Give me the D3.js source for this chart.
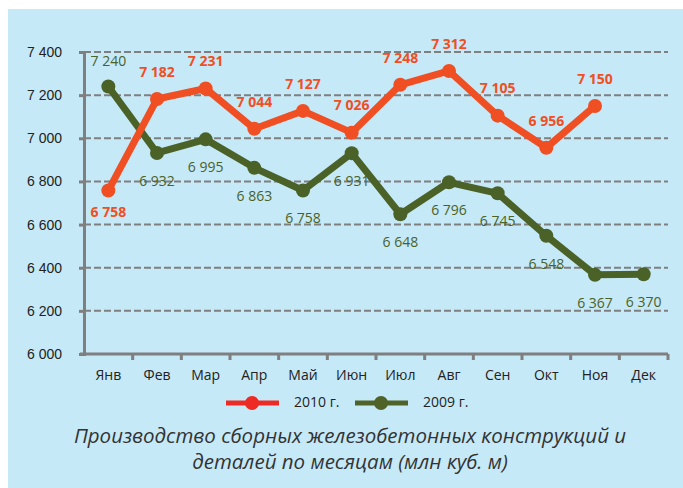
<!DOCTYPE html>
<html>
<head>
<meta charset="utf-8">
<script src="https://cdn.jsdelivr.net/npm/d3@7"></script>
<style>
  body { margin: 0; background: #fff; }
  svg { display: block; font-family: "Open Sans", "Noto Sans", sans-serif; }
</style>
</head>
<body>
<div id="chart"></div>
<script>
// months and series values
const months = ['Янв', 'Фев', 'Мар', 'Апр', 'Май', 'Июн', 'Июл', 'Авг', 'Сен', 'Окт', 'Ноя', 'Дек'];
const values2010 = [6758, 7182, 7231, 7044, 7127, 7026, 7248, 7312, 7105, 6956, 7150];
const values2009 = [7240, 6932, 6995, 6863, 6758, 6931, 6648, 6796, 6745, 6548, 6367, 6370];
const yTicks = [6000, 6200, 6400, 6600, 6800, 7000, 7200, 7400];
const seriesNames = ['2010 г.', '2009 г.'];
const captionLines = ['Производство сборных железобетонных конструкций и', 'деталей по месяцам (млн куб. м)'];

const width = 683, height = 488;
const margin = { top: 52, right: 15, bottom: 134, left: 84 };

const orange = '#f04e23', red = '#ee2a24', green = '#4a6127';

const svg = d3.select('#chart').append('svg')
    .attr('width', width)
    .attr('height', height);

// panel background
svg.append('rect')
    .attr('x', 8).attr('y', 9)
    .attr('width', width - 8).attr('height', height - 9)
    .attr('fill', '#c6e9f8');

const x = d3.scaleBand()
    .domain(months)
    .range([margin.left, width - margin.right])
    .padding(0);

const y = d3.scaleLinear()
    .domain([6000, 7400])
    .range([height - margin.bottom, margin.top]);

const fmt = v => d3.format(',')(v).replace(',', ' ');

// gridlines
svg.append('g')
    .selectAll('line')
    .data(yTicks.slice(1))
    .join('line')
    .attr('x1', margin.left)
    .attr('x2', width - margin.right)
    .attr('y1', d => y(d))
    .attr('y2', d => y(d))
    .attr('stroke', '#7f7f7f')
    .attr('stroke-width', 2)
    .attr('stroke-dasharray', '7,3');

// y axis
const yAxis = svg.append('g')
    .attr('transform', `translate(${margin.left},0)`)
    .call(d3.axisLeft(y).tickValues(yTicks).tickFormat(fmt).tickSize(5).tickPadding(17));
yAxis.select('.domain').attr('stroke', '#7f7f7f').attr('stroke-width', 3);
yAxis.selectAll('.tick line').attr('stroke', '#7f7f7f').attr('stroke-width', 3);
yAxis.selectAll('text').attr('font-size', 14).attr('fill', '#222');

// x axis, ticks between categories
const xAxis = svg.append('g')
    .attr('transform', `translate(0,${y(6000)})`);
xAxis.append('line')
    .attr('x1', margin.left - 4).attr('x2', width - margin.right)
    .attr('stroke', '#7f7f7f').attr('stroke-width', 3);
xAxis.selectAll('.tk')
    .data(months)
    .join('line')
    .attr('class', 'tk')
    .attr('x1', d => x(d) + x.bandwidth())
    .attr('x2', d => x(d) + x.bandwidth())
    .attr('y1', 0).attr('y2', 6)
    .attr('stroke', '#7f7f7f').attr('stroke-width', 3);
xAxis.selectAll('text')
    .data(months)
    .join('text')
    .attr('x', d => x(d) + x.bandwidth() / 2)
    .attr('y', 26)
    .attr('text-anchor', 'middle')
    .attr('font-size', 14)
    .attr('fill', '#222')
    .text(d => d);

const line = d3.line()
    .x((d, i) => x(months[i]) + x.bandwidth() / 2)
    .y(d => y(d));

function drawSeries(values, color, bold, labelOffset) {
    svg.append('path')
        .datum(values)
        .attr('fill', 'none')
        .attr('stroke', color)
        .attr('stroke-width', 7)
        .attr('stroke-linejoin', 'round')
        .attr('d', line);
    svg.append('g')
        .selectAll('circle')
        .data(values)
        .join('circle')
        .attr('cx', (d, i) => x(months[i]) + x.bandwidth() / 2)
        .attr('cy', d => y(d))
        .attr('r', 7)
        .attr('fill', color);
    svg.append('g')
        .selectAll('text')
        .data(values)
        .join('text')
        .attr('x', (d, i) => x(months[i]) + x.bandwidth() / 2)
        .attr('y', (d, i) => y(d) + labelOffset(i))
        .attr('text-anchor', 'middle')
        .attr('dominant-baseline', 'middle')
        .attr('font-size', 14)
        .attr('font-weight', bold ? 'bold' : 'normal')
        .attr('fill', color)
        .text(fmt);
}

drawSeries(values2009, green, false, i => i === 0 ? -24 : 29);
drawSeries(values2010, orange, true, i => i === 0 ? 23 : -26);

// legend
const legend = svg.append('g').attr('transform', 'translate(0,403)');
[[226, red, seriesNames[0]], [355, '#4f6228', seriesNames[1]]].forEach(([lx, c, name]) => {
    legend.append('line')
        .attr('x1', lx).attr('x2', lx + 53)
        .attr('stroke', c).attr('stroke-width', 5);
    legend.append('circle')
        .attr('cx', lx + 26).attr('r', 7).attr('fill', c);
    legend.append('text')
        .attr('x', lx + 68).attr('y', 0)
        .attr('dominant-baseline', 'middle')
        .attr('font-size', 14)
        .attr('fill', '#222')
        .text(name);
});

// caption
svg.append('g')
    .selectAll('text')
    .data(captionLines)
    .join('text')
    .attr('x', 350)
    .attr('y', (d, i) => 443 + i * 26)
    .attr('text-anchor', 'middle')
    .attr('font-size', 20.5)
    .attr('font-style', 'italic')
    .attr('fill', '#333')
    .text(d => d);
</script>
</body>
</html>
